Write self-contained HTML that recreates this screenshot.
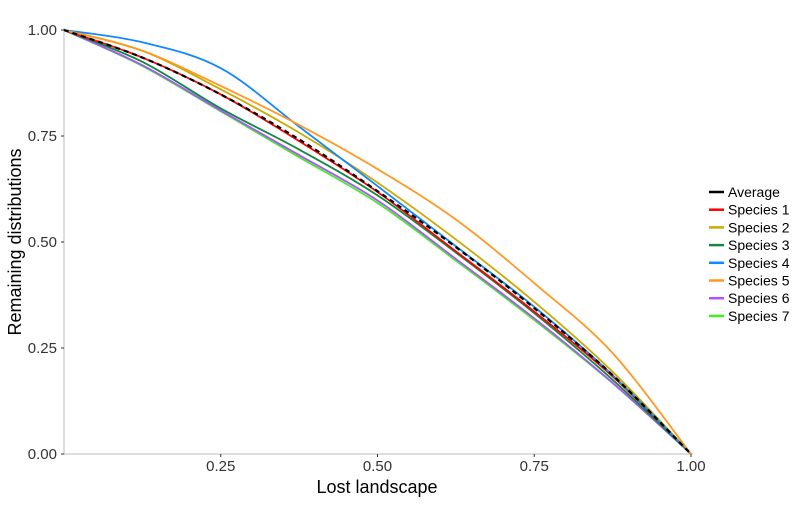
<!DOCTYPE html>
<html><head><meta charset="utf-8"><style>
body{margin:0;background:#fff}
svg{font-family:"Liberation Sans",sans-serif}
</style></head><body>
<svg id="chart" width="800" height="500">
<g id="axes"></g><g id="lines"></g><g id="legend"></g>
</svg>
<script>
const xs = [0, 0.125, 0.25, 0.375, 0.5, 0.625, 0.75, 0.875, 1];
const seriesNames = ["Average","Species 1","Species 2","Species 3","Species 4","Species 5","Species 6","Species 7"];
const avgVals = [1,.935,.848,.742,.62,.488,.344,.186,0];
const sp1Vals = [1,.935,.848,.738,.618,.478,.336,.183,0];
const sp2Vals = [1,.951,.86,.758,.64,.506,.359,.194,0];
const sp3Vals = [1,.925,.815,.718,.61,.475,.332,.175,0];
const sp4Vals = [1,.971,.91,.772,.632,.49,.347,.186,0];
const sp5Vals = [1,.951,.868,.776,.672,.553,.403,.238,0];
const sp6Vals = [1,.917,.81,.705,.598,.46,.32,.168,0];
const sp7Vals = [1,.915,.808,.70,.592,.456,.316,.167,0];
const colors = ["#000000","#ff0000","#ccaa00","#118844","#1188ff","#ff9922","#aa55ff","#44ee22"];
const xTicks = [0.25,0.5,0.75,1];
const xTickLabels = ["0.25","0.50","0.75","1.00"];
const yTicks = [0,0.25,0.5,0.75,1];
const yTickLabels = ["0.00","0.25","0.50","0.75","1.00"];

const NS="http://www.w3.org/2000/svg";
const X0=64,X1=691,Y0=454,Y1=30;
const sx=v=>X0+(X1-X0)*v, sy=v=>Y0-(Y0-Y1)*v;
function mk(t,a,p){const e=document.createElementNS(NS,t);for(const k in a)e.setAttribute(k,a[k]);p.appendChild(e);return e;}
const axes=document.getElementById('axes');
let e=mk('line',{x1:X0,y1:Y1-2,x2:X0,y2:Y0,stroke:'#bbb','stroke-width':1},axes);


e=mk('line',{x1:X0,y1:Y0,x2:X1+2,y2:Y0,stroke:'#bbb','stroke-width':1},axes);


yTicks.forEach((v,i)=>{
  mk('line',{x1:X0-3,x2:X0,y1:sy(v),y2:sy(v),stroke:'#333'},axes);
  const t=mk('text',{x:X0-7,y:sy(v)+5,'text-anchor':'end','font-size':15,fill:'#333'},axes);
  t.textContent=yTickLabels[i];
  
  
});
xTicks.forEach((v,i)=>{
  mk('line',{x1:sx(v),x2:sx(v),y1:Y0,y2:Y0+3,stroke:'#333'},axes);
  const t=mk('text',{x:sx(v),y:Y0+17,'text-anchor':'middle','font-size':15,fill:'#333'},axes);
  t.textContent=xTickLabels[i];
  
  
});
let t=mk('text',{x:377,y:493,'text-anchor':'middle','font-size':18,fill:'#000'},axes);
t.textContent='Lost landscape';


t=mk('text',{x:0,y:0,'text-anchor':'middle','font-size':18,fill:'#000',transform:'translate(21,242) rotate(-90)'},axes);
t.textContent='Remaining distributions';



function pathD(vals){
  const p=xs.map((x,i)=>[sx(x),sy(vals[i])]);
  let d=`M${p[0][0]},${p[0][1]}`;
  for(let i=0;i<p.length-1;i++){
    const a=p[Math.max(i-1,0)],b=p[i],c=p[i+1],dd=p[Math.min(i+2,p.length-1)];
    const c1=[b[0]+(c[0]-a[0])/6,b[1]+(c[1]-a[1])/6],c2=[c[0]-(dd[0]-b[0])/6,c[1]-(dd[1]-b[1])/6];
    d+=`C${c1[0]},${c1[1]} ${c2[0]},${c2[1]} ${c[0]},${c[1]}`;
  }
  return d;
}
const allVals=[avgVals,sp1Vals,sp2Vals,sp3Vals,sp4Vals,sp5Vals,sp6Vals,sp7Vals];
const lines=document.getElementById('lines');
const order=[7,6,3,1,2,4,5,0];
order.forEach(i=>{
  const p=mk('path',{d:pathD(allVals[i]),fill:'none',stroke:colors[i],'stroke-width':i===0?2.2:1.8},lines);
  if(i===0)p.setAttribute('stroke-dasharray','5,4');
  
  
});
const leg=document.getElementById('legend');
seriesNames.forEach((n,i)=>{
  const y=192+i*17.7;
  const g=mk('g',{},leg);
  
  
  mk('line',{x1:709,x2:724,y1:y,y2:y,stroke:colors[i],'stroke-width':2.5},g);
  const tt=mk('text',{x:728,y:y+5,'font-size':14,fill:'#000'},g);
  tt.textContent=n;
});
</script>
</body></html>
